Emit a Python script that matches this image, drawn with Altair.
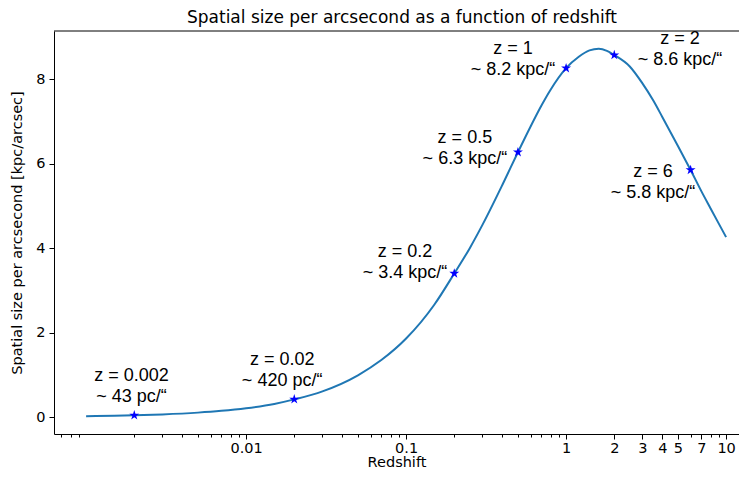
import altair as alt
import pandas as pd

# ---- data ----
curve_z = [0.001, 0.0015, 0.002, 0.003, 0.005, 0.007, 0.01, 0.015, 0.02, 0.03, 0.05,
           0.07, 0.1, 0.15, 0.2, 0.25, 0.3, 0.4, 0.5, 0.6, 0.7, 0.8, 1.0, 1.2, 1.4,
           1.6, 1.8, 2.0, 2.5, 3.0, 3.5, 4.0, 5.0, 6.0, 7.0, 8.0, 9.0, 10.0]
curve_v = [0.0215, 0.032, 0.043, 0.064, 0.106, 0.148, 0.21, 0.312, 0.42, 0.61, 0.99,
           1.35, 1.86, 2.66, 3.40, 4.00, 4.55, 5.50, 6.27, 6.88, 7.37, 7.75, 8.26, 8.53, 8.68,
           8.72, 8.67, 8.57, 8.30, 7.90, 7.50, 7.10, 6.42, 5.85, 5.35, 4.94, 4.58, 4.26]

star_z = [0.002, 0.02, 0.2, 0.5, 1, 2, 6]
star_v = [0.043, 0.42, 3.40, 6.27, 8.26, 8.57, 5.85]

label_line1 = ["z = 0.002", "z = 0.02", "z = 0.2", "z = 0.5", "z = 1", "z = 2", "z = 6"]
label_line2 = ["~ 43 pc/\u201c", "~ 420 pc/\u201c", "~ 3.4 kpc/\u201c", "~ 6.3 kpc/\u201c",
               "~ 8.2 kpc/\u201c", "~ 8.6 kpc/\u201c", "~ 5.8 kpc/\u201c"]
# annotation anchor (text block centre) in data coordinates, like matplotlib's xytext
label_z = [0.00192, 0.0168, 0.0984, 0.233, 0.466, 5.15, 3.49]
label_v = [0.72, 1.10, 3.67, 6.35, 8.47, 8.71, 5.55]

major_ticks = [0.01, 0.1, 1, 2, 3, 4, 5, 7, 10]
minor_ticks = [0.0007, 0.0008, 0.0009,
               0.002, 0.003, 0.004, 0.005, 0.006, 0.007, 0.008, 0.009,
               0.02, 0.03, 0.04, 0.05, 0.06, 0.07, 0.08, 0.09,
               0.2, 0.3, 0.4, 0.5, 0.6, 0.7, 0.8, 0.9,
               6, 8, 9]
y_ticks = [0, 2, 4, 6, 8]

curve_df = pd.DataFrame({"z": curve_z, "v": curve_v})
star_df = pd.DataFrame({"z": star_z, "v": star_v})
label_df = pd.DataFrame({"lz": label_z, "lv": label_v, "l1": label_line1, "l2": label_line2})

W, H = 685, 403
AX_FONT = "DejaVu Sans"
ANN_FONT = "Liberation Sans"

xscale = alt.Scale(type="log", domain=[0.00063, 12.04], nice=False)
yscale = alt.Scale(domain=[-0.40, 9.14], nice=False, zero=False)

major_axis = alt.Axis(
    values=major_ticks, labelExpr="'' + datum.value", tickSize=5, tickColor="black",
    tickWidth=1, domainColor="black", domainWidth=1, labelColor="black", labelFont=AX_FONT,
    labelFontSize=14.5, labelPadding=2, labelOverlap=False, labelFlush=False, grid=False,
    title="Redshift", titleFont=AX_FONT, titleFontSize=14.5, titleFontWeight="normal",
    titleColor="black", titlePadding=1, orient="bottom",
)
minor_axis = alt.Axis(
    values=minor_ticks, labels=False, tickSize=3, tickColor="black", tickWidth=1,
    domain=False, grid=False, title=None, orient="bottom",
)
yaxis = alt.Axis(
    values=y_ticks, tickSize=5, tickColor="black", tickWidth=1, domainColor="black",
    domainWidth=1, labelColor="black", labelFont=AX_FONT, labelFontSize=14.5, labelPadding=4,
    grid=False, title="Spatial size per arcsecond [kpc/arcsec]", titleFont=AX_FONT,
    titleFontSize=14.5, titleFontWeight="normal", titleColor="black", titlePadding=11,
)

star_path = ("M0,-1L0.2245,-0.309L0.951,-0.309L0.363,0.118L0.588,0.809L0,0.382"
             "L-0.588,0.809L-0.363,0.118L-0.951,-0.309L-0.2245,-0.309Z")

line = alt.Chart(curve_df).mark_line(color="#1f77b4", strokeWidth=2, interpolate="monotone").encode(
    x=alt.X("z:Q", scale=xscale, axis=major_axis),
    y=alt.Y("v:Q", scale=yscale, axis=yaxis),
)
stars = alt.Chart(star_df).mark_point(shape=star_path, filled=True, color="#0000ff",
                                      size=110, opacity=1).encode(
    x=alt.X("z:Q", axis=minor_axis),
    y=alt.Y("v:Q", axis=None),
)
txt1 = alt.Chart(label_df).mark_text(font=ANN_FONT, fontSize=18, color="black", align="center",
                                     baseline="middle", dy=-10.5).encode(
    x=alt.X("lz:Q", axis=None), y=alt.Y("lv:Q", axis=None), text="l1:N")
txt2 = alt.Chart(label_df).mark_text(font=ANN_FONT, fontSize=18, color="black", align="center",
                                     baseline="middle", dy=10.5).encode(
    x=alt.X("lz:Q", axis=None), y=alt.Y("lv:Q", axis=None), text="l2:N")
top_spine = alt.Chart(pd.DataFrame({"k": [0]})).mark_rule(color="black", strokeWidth=1).encode(
    x=alt.value(0), x2=alt.value(W), y=alt.value(0))

chart = alt.layer(line, stars, txt1, txt2, top_spine).resolve_axis(
    x="independent", y="independent"
).properties(
    width=W, height=H,
    title=alt.TitleParams("Spatial size per arcsecond as a function of redshift", font=AX_FONT,
                          fontSize=17, fontWeight="normal", color="black", anchor="middle",
                          dx=5.5, offset=2.5),
    autosize=alt.AutoSizeParams(type="none"),
    padding={"left": 46, "top": 23, "right": 0, "bottom": 37},
).configure_view(stroke=None)

chart.save("out.html", embed_options={"renderer": "svg", "actions": False})
